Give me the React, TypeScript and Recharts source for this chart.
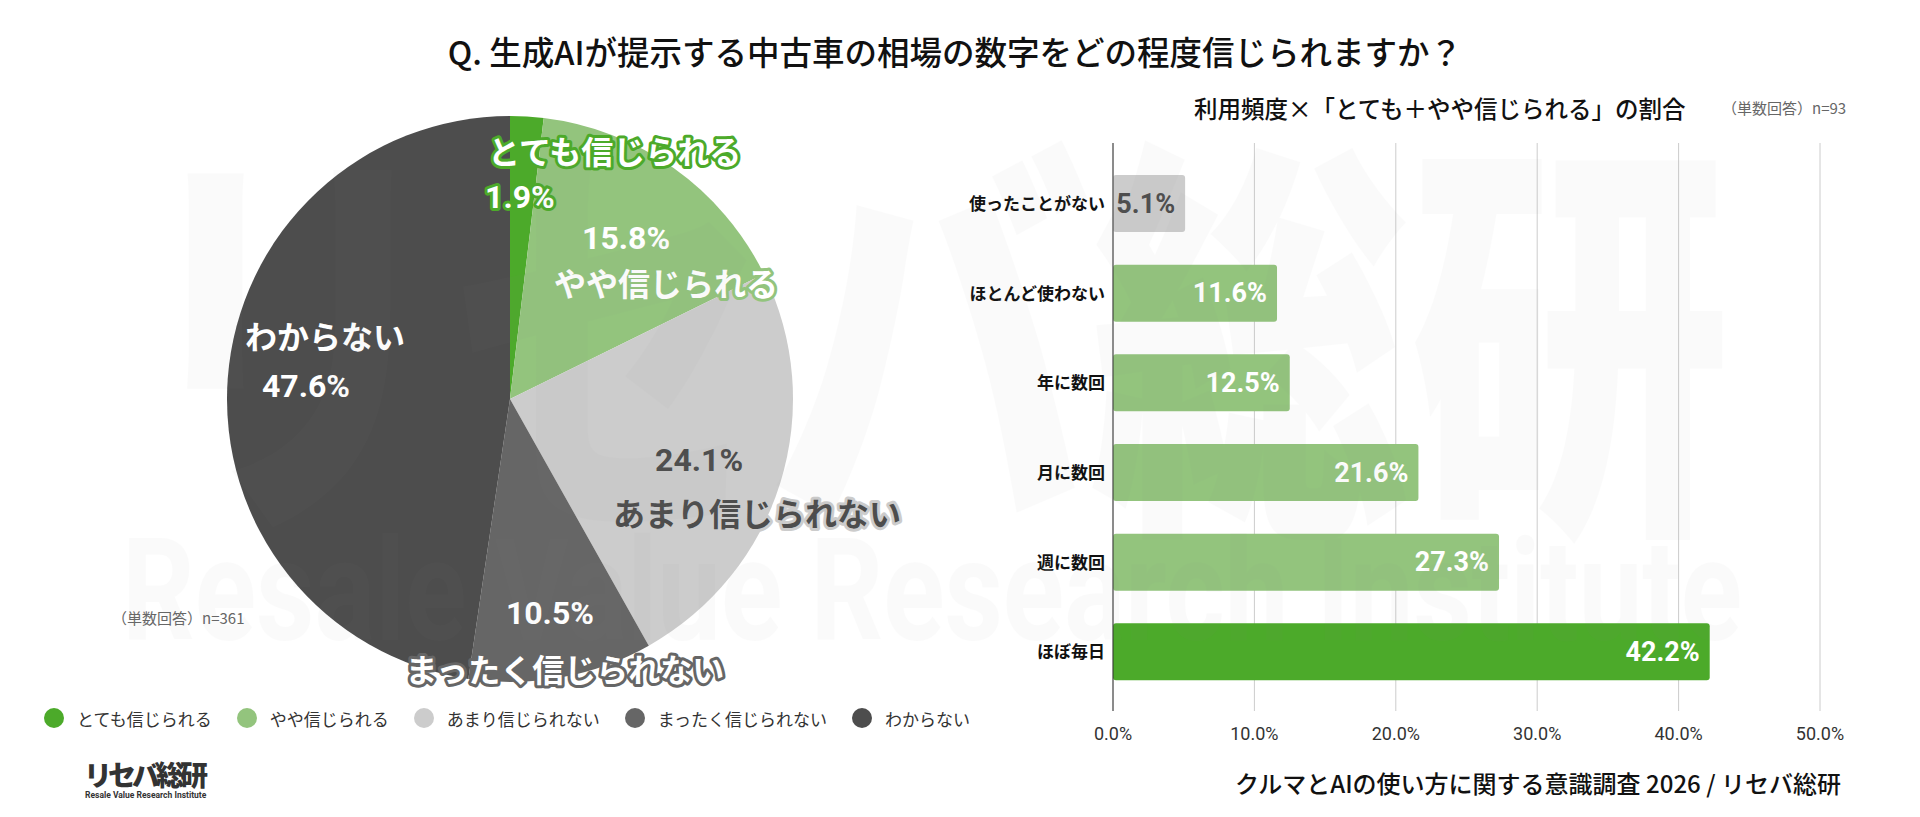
import React from 'react';
import { PieChart, Pie, Cell, BarChart, Bar, XAxis, YAxis, CartesianGrid, LabelList } from 'recharts';

const JP = "'Noto Sans CJK JP', 'Noto Sans', sans-serif";
const NUM = "Roboto, 'Noto Sans CJK JP', sans-serif";

// pie: 信頼度 (n=361)
const trustLabels = ['とても信じられる', 'やや信じられる', 'あまり信じられない', 'まったく信じられない', 'わからない'];
const trustValues = [1.9, 15.8, 24.1, 10.5, 47.6];
const trustColors = ['#4CAA2A', '#93C47D', '#CCCCCC', '#666666', '#4D4D4D'];

// bars: 利用頻度別「とても＋やや」 (n=93)
const freqLabels = ['使ったことがない', 'ほとんど使わない', '年に数回', '月に数回', '週に数回', 'ほぼ毎日'];
const freqValues = [5.1, 11.6, 12.5, 21.6, 27.3, 42.2];
const freqColors = ['#CCCCCC', '#93C47D', '#93C47D', '#93C47D', '#93C47D', '#4CAA2A'];
const xTicks = [0, 10, 20, 30, 40, 50];

const pieData = trustLabels.map((name, i) => ({ name, value: trustValues[i] }));
const barData = freqLabels.map((name, i) => ({ name, value: freqValues[i] }));

// label placement inside the pie, in units of the radius
const pieLabelLayout = [
  { name: [-0.078, -0.88, 'start'], value: [-0.088, -0.714, 'start'], fill: '#fff', stroke: '#4CAA2A' },
  { name: [0.551, -0.413, 'middle'], value: [0.41, -0.569, 'middle'], fill: '#fff', stroke: '#93C47D' },
  { name: [0.873, 0.399, 'middle'], value: [0.668, 0.216, 'middle'], fill: '#4D4D4D', stroke: '#CCCCCC' },
  { name: [0.194, 0.95, 'middle'], value: [0.141, 0.756, 'middle'], fill: '#fff', stroke: '#666666' },
  { name: [-0.654, -0.226, 'middle'], value: [-0.721, -0.046, 'middle'], fill: '#fff', stroke: '#4D4D4D' },
];

const renderPieLabel = (props: any) => {
  const { cx, cy, outerRadius, index } = props;
  const l = pieLabelLayout[index];
  const common = {
    fill: l.fill,
    stroke: l.stroke,
    strokeWidth: 6,
    strokeLinejoin: 'round' as const,
    paintOrder: 'stroke',
    dominantBaseline: 'central' as const,
    fontWeight: 700,
  };
  return (
    <g>
      <text {...common} x={cx + l.name[0] * outerRadius} y={cy + l.name[1] * outerRadius}
        textAnchor={l.name[2]} fontFamily={JP} fontSize={32}>
        {trustLabels[index]}
      </text>
      <text {...common} x={cx + l.value[0] * outerRadius} y={cy + l.value[1] * outerRadius}
        textAnchor={l.value[2]} fontFamily={NUM} fontSize={32}>
        {trustValues[index].toFixed(1)}%
      </text>
    </g>
  );
};

const renderBarLabel = (props: any) => {
  const { x, y, width, height, value, index } = props;
  return (
    <text x={x + width - 10} y={y + height / 2} textAnchor="end" dominantBaseline="central"
      fontFamily={NUM} fontWeight={700} fontSize={27} fill={index === 0 ? '#4D4D4D' : '#fff'}>
      {Number(value).toFixed(1)}%
    </text>
  );
};

// faint company watermark behind/over everything
const Watermark = () => (
  <svg width={1920} height={817} style={{ position: 'absolute', left: 0, top: 0, pointerEvents: 'none' }}>
    <g fill="#8c8c8c" opacity={0.035} fontWeight={900}>
      <text x={130} y={500} fontSize={420} fontFamily={JP} textLength={1600} lengthAdjust="spacingAndGlyphs">リセバ総研</text>
      <text x={122} y={640} fontSize={142} fontFamily={NUM} fontWeight={700} textLength={1620} lengthAdjust="spacingAndGlyphs">
        Resale Value Research Institute
      </text>
    </g>
  </svg>
);

const PieLegend = () => (
  <div style={{ position: 'absolute', left: 44, top: 705, display: 'flex', alignItems: 'center', whiteSpace: 'nowrap' }}>
    {trustLabels.map((name, i) => (
      <div key={name} style={{ display: 'flex', alignItems: 'center', marginRight: 25, height: 26 }}>
        <span style={{ width: 20, height: 20, borderRadius: 10, background: trustColors[i], marginRight: 13 }} />
        <span style={{ fontSize: 17, color: '#333', fontFamily: JP }}>{name}</span>
      </div>
    ))}
  </div>
);

const App: React.FC = () => (
  <div style={{ position: 'relative', width: 1920, height: 817, background: '#fff', overflow: 'hidden', fontFamily: JP }}>
    <style>{'body{margin:0}'}</style>

    <div style={{ position: 'absolute', left: 0, top: 31, width: 1910, textAlign: 'center', fontSize: 32.5, lineHeight: '40px', fontWeight: 500, color: '#111', whiteSpace: 'nowrap' }}>
      Q. 生成AIが提示する中古車の相場の数字をどの程度信じられますか？
    </div>

    <div style={{ position: 'absolute', left: 0, top: 0 }}>
      <PieChart width={1000} height={700} margin={{ top: 0, right: 0, bottom: 0, left: 0 }}>
        <Pie
          data={pieData}
          dataKey="value"
          nameKey="name"
          cx={510}
          cy={399}
          outerRadius={283}
          startAngle={90}
          endAngle={-270}
          stroke="none"
          label={renderPieLabel}
          labelLine={false}
          isAnimationActive={false}
        >
          {pieData.map((d, i) => (
            <Cell key={d.name} fill={trustColors[i]} />
          ))}
        </Pie>
      </PieChart>
    </div>

    <div style={{ position: 'absolute', left: 112, top: 608, fontSize: 15, lineHeight: '20px', color: '#666' }}>（単数回答）n=361</div>
    <PieLegend />

    <div style={{ position: 'absolute', left: 84, top: 757, fontSize: 28, lineHeight: '34px', fontWeight: 900, color: '#333', letterSpacing: -4 }}>リセバ総研</div>
    <div style={{ position: 'absolute', left: 85, top: 790, fontSize: 8.5, lineHeight: '11px', fontWeight: 700, color: '#333', fontFamily: NUM }}>Resale Value Research Institute</div>

    <div style={{ position: 'absolute', left: 1194, top: 93, fontSize: 23.5, lineHeight: '30px', fontWeight: 500, color: '#111', whiteSpace: 'nowrap' }}>
      利用頻度×「とても＋やや信じられる」の割合
    </div>
    <div style={{ position: 'absolute', left: 1722, top: 98, fontSize: 15, lineHeight: '20px', color: '#666', whiteSpace: 'nowrap' }}>（単数回答）n=93</div>

    <div style={{ position: 'absolute', left: 940, top: 120 }}>
      <BarChart width={960} height={640} data={barData} layout="vertical" margin={{ top: 23, right: 80, bottom: 9, left: 0 }}>
        <CartesianGrid horizontal={false} stroke="#CCCCCC" />
        <XAxis
          type="number"
          domain={[0, 50]}
          ticks={xTicks}
          tickFormatter={(v: number) => `${v.toFixed(1)}%`}
          axisLine={false}
          tickLine={false}
          tickMargin={10}
          height={40}
          tick={{ fontSize: 18, fill: '#333', fontFamily: NUM }}
        />
        <YAxis
          type="category"
          dataKey="name"
          width={173}
          padding={{ top: 16, bottom: 14 }}
          axisLine={{ stroke: '#333' }}
          tickLine={false}
          tickMargin={2}
          tick={{ fontSize: 17, fontWeight: 700, fill: '#111', fontFamily: JP }}
        />
        <Bar dataKey="value" barSize={57} radius={3} isAnimationActive={false}>
          {barData.map((d, i) => (
            <Cell key={d.name} fill={freqColors[i]} />
          ))}
          <LabelList dataKey="value" content={renderBarLabel} />
        </Bar>
      </BarChart>
    </div>

    <div style={{ position: 'absolute', left: 1235, top: 767, fontSize: 24, lineHeight: '32px', fontWeight: 500, color: '#111', whiteSpace: 'nowrap' }}>
      クルマとAIの使い方に関する意識調査 2026 / リセバ総研
    </div>

    <Watermark />
  </div>
);

export default App;
